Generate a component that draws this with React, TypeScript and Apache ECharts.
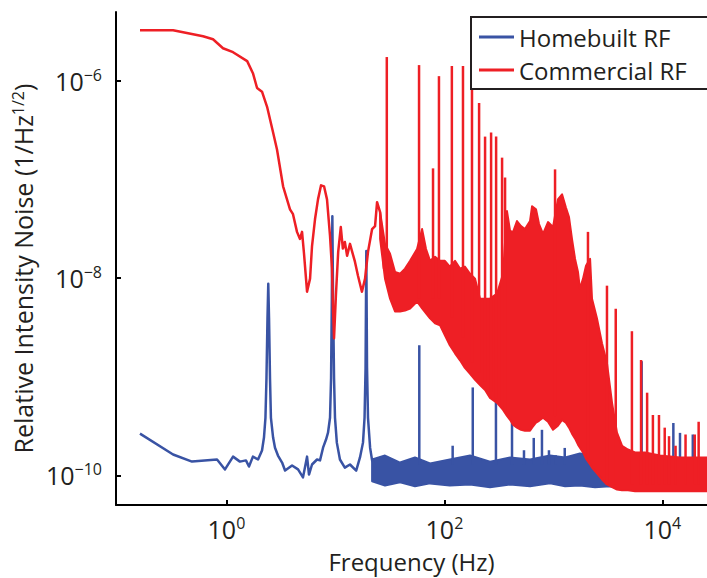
import React, { useEffect, useRef } from "react";
import * as echarts from "echarts";

// ---------- data ----------
// Homebuilt RF: low-frequency trace (Hz, 1/sqrt(Hz))
const blueFreq = [0.161, 0.324, 0.483, 0.82, 0.97, 1.15, 1.33, 1.51, 1.61, 1.75, 1.95, 2.12, 2.21, 2.28, 2.33, 2.38, 2.42, 2.46, 2.51, 2.56, 2.68, 2.79, 2.97, 3.24, 3.45, 4.0, 4.54, 5.04, 5.49, 5.72, 6.1, 6.78, 7.22, 7.7, 8.2, 8.55, 8.92, 9.12, 9.27, 9.37, 9.51, 9.71, 9.91, 10.3, 11.0, 12.2, 13.6, 15.5, 16.8, 17.9, 18.5, 18.9, 19.2, 19.5, 19.9, 20.8, 21.7, 23.6];
const blueVal = [2.65e-10, 1.63e-10, 1.38e-10, 1.45e-10, 1.15e-10, 1.55e-10, 1.38e-10, 1.42e-10, 1.23e-10, 1.55e-10, 1.45e-10, 1.79e-10, 2.42e-10, 3.84e-10, 9.7e-10, 3.91e-9, 8.8e-9, 3.91e-9, 9.7e-10, 3.84e-10, 2.42e-10, 1.91e-10, 1.59e-10, 1.35e-10, 1.12e-10, 1.26e-10, 1.15e-10, 9.55e-11, 1.55e-10, 1.02e-10, 1.29e-10, 1.45e-10, 1.42e-10, 1.91e-10, 2.31e-10, 2.71e-10, 3.84e-10, 9.7e-10, 6.2e-9, 4.26e-8, 6.2e-9, 9.7e-10, 3.84e-10, 2.15e-10, 1.45e-10, 1.2e-10, 1.29e-10, 1.12e-10, 1.52e-10, 2.15e-10, 3.84e-10, 1.23e-9, 1.89e-8, 1.23e-9, 3.84e-10, 1.91e-10, 1.42e-10, 1.2e-10];
// Homebuilt RF: dense noise floor envelope
const blueBandFreq = [21.7, 28.5, 39.2, 53.7, 73.8, 112, 172, 262, 400, 610, 931, 1280, 1750, 2410, 3300, 5040, 7690, 11700, 17900, 25600];
const blueBandHi = [1.45e-10, 1.59e-10, 1.35e-10, 1.52e-10, 1.32e-10, 1.45e-10, 1.59e-10, 1.38e-10, 1.52e-10, 1.45e-10, 1.59e-10, 1.52e-10, 1.67e-10, 1.59e-10, 1.45e-10, 1.32e-10, 1.42e-10, 1.35e-10, 1.45e-10, 1.38e-10];
const blueBandLo = [8.7e-11, 7.9e-11, 8.5e-11, 7.75e-11, 8.3e-11, 7.9e-11, 8.1e-11, 7.6e-11, 8.1e-11, 7.75e-11, 8.3e-11, 7.75e-11, 7.9e-11, 7.6e-11, 7.75e-11, 7.4e-11, 7.6e-11, 7.2e-11, 7.6e-11, 7.4e-11];
// Homebuilt RF: line harmonics
const blueSpikeFreq = [58.8, 119, 182, 297, 417, 537, 660, 785, 910, 1050, 1270, 6450, 12600, 14500, 19000];
const blueSpikePeak = [2.09e-9, 2.0e-10, 7.8e-10, 6.2e-10, 4.9e-10, 1.8e-10, 2.4e-10, 2.9e-10, 1.8e-10, 1.6e-10, 1.9e-10, 1.44e-9, 3.4e-10, 2.7e-10, 2.6e-10];
const blueSpikeBase = [1.3e-10, 1.3e-10, 1.3e-10, 1.3e-10, 1.3e-10, 1.3e-10, 1.3e-10, 1.3e-10, 1.3e-10, 1.3e-10, 1.3e-10, 1.3e-10, 1.3e-10, 1.3e-10, 1.3e-10];

// Commercial RF: low-frequency trace
const redFreq = [0.161, 0.324, 0.61, 0.753, 0.93, 1.15, 1.55, 1.75, 1.91, 2.12, 2.36, 2.68, 2.91, 3.31, 3.83, 4.08, 4.44, 4.73, 4.94, 5.15, 5.49, 5.85, 6.1, 6.5, 6.92, 7.38, 7.86, 8.37, 8.92, 9.3, 9.5, 9.71, 10.1, 10.6, 11.2, 11.7, 12.2, 12.8, 13.6, 15.1, 16.1, 17.5, 18.7, 19.9, 21.7, 23.1, 24.1, 25.7, 26.8, 27.9];
const redVal = [3.27e-6, 3.27e-6, 2.84e-6, 2.65e-6, 2.15e-6, 1.96e-6, 1.59e-6, 1.2e-6, 8.5e-7, 7.8e-7, 5.47e-7, 3.0e-7, 2.02e-7, 8.55e-8, 5.0e-8, 4.46e-8, 2.95e-8, 2.5e-8, 2.95e-8, 1.77e-8, 7.3e-9, 9.9e-9, 2.12e-8, 3.98e-8, 6.3e-8, 8.75e-8, 8.55e-8, 6.3e-8, 2.68e-8, 1.25e-8, 4.93e-9, 2.46e-9, 6.67e-9, 1.85e-8, 3.3e-8, 2.0e-8, 2.33e-8, 1.69e-8, 2.23e-8, 1.47e-8, 1.06e-8, 7.3e-9, 9.9e-9, 1.85e-8, 3.15e-8, 3.38e-8, 5.9e-8, 4.68e-8, 2.5e-8, 1.25e-8];
// Commercial RF: dense noise envelope
const redBandFreq = [25.7, 28.5, 31.7, 35.2, 39.2, 43.5, 48.4, 56.1, 62.4, 67.8, 73.8, 82, 91.2, 101, 112, 125, 139, 154, 172, 191, 212, 236, 262, 304, 345, 375, 400, 426, 463, 504, 548, 610, 637, 692, 738, 803, 892, 991, 1100, 1200, 1300, 1390, 1480, 1580, 1680, 1750, 1870, 1990, 2170, 2260, 2510, 2790, 3100, 3450, 3830, 4260, 4830, 5610, 6920, 9510, 14500, 25600];
const redBandHi = [4.68e-8, 2.23e-8, 1.77e-8, 1.16e-8, 1.11e-8, 1.25e-8, 1.5e-8, 1.98e-8, 3.15e-8, 1.98e-8, 1.5e-8, 1.65e-8, 1.5e-8, 1.5e-8, 1.31e-8, 1.5e-8, 1.25e-8, 1.31e-8, 1.11e-8, 9.9e-9, 6.2e-9, 6.2e-9, 6.2e-9, 6.98e-9, 1.11e-8, 4.79e-8, 3.01e-8, 2.94e-8, 3.8e-8, 3.38e-8, 3.15e-8, 3.8e-8, 5.37e-8, 5.0e-8, 3.54e-8, 2.81e-8, 3.71e-8, 3.3e-8, 6.3e-8, 7.1e-8, 5.25e-8, 4.17e-8, 2.5e-8, 1.57e-8, 1.16e-8, 7.8e-9, 9.9e-9, 1.34e-8, 1.57e-8, 6.2e-9, 3.91e-9, 2.19e-9, 1.38e-9, 5.44e-10, 2.71e-10, 2.0e-10, 1.83e-10, 1.71e-10, 1.71e-10, 1.59e-10, 1.52e-10, 1.52e-10];
const redBandLo = [2.5e-8, 9.9e-9, 6.2e-9, 4.6e-9, 4.6e-9, 4.71e-9, 4.93e-9, 5.8e-9, 4.93e-9, 4.39e-9, 3.91e-9, 3.48e-9, 3.32e-9, 2.64e-9, 2.09e-9, 1.73e-9, 1.47e-9, 1.23e-9, 1.07e-9, 9.3e-10, 8.26e-10, 7.35e-10, 6.1e-10, 5.44e-10, 4.62e-10, 4.02e-10, 3.66e-10, 3.27e-10, 3.05e-10, 2.9e-10, 2.84e-10, 2.84e-10, 3.05e-10, 3.42e-10, 3.58e-10, 3.84e-10, 3.5e-10, 2.9e-10, 3.19e-10, 3.66e-10, 3.42e-10, 3.05e-10, 2.65e-10, 2.36e-10, 2.05e-10, 1.91e-10, 1.71e-10, 1.48e-10, 1.29e-10, 1.2e-10, 1.05e-10, 9.1e-11, 8.1e-11, 7.6e-11, 7.2e-11, 7.05e-11, 7.05e-11, 6.9e-11, 6.9e-11, 6.9e-11, 6.9e-11, 6.9e-11];
// Commercial RF: line harmonics
const redSpikeFreq = [29.6, 58.5, 78.6, 89.1, 117, 148, 179, 208, 236, 268, 298, 338, 360, 1035, 2075, 3100, 3730, 5250, 6370, 7240, 8180, 9300, 10500, 11500, 13200, 16300, 19800, 21500];
const redSpikePeak = [1.75e-6, 1.45e-6, 1.3e-7, 1.12e-6, 1.42e-6, 1.42e-6, 1.6e-6, 6.0e-7, 2.73e-7, 3.0e-7, 2.73e-7, 1.67e-7, 1.05e-7, 1.27e-7, 2.95e-8, 8.4e-9, 4.9e-9, 2.9e-9, 1.48e-9, 6.9e-10, 4.1e-10, 4.1e-10, 3.05e-10, 2.5e-10, 2.0e-10, 2.6e-10, 2.6e-10, 3.5e-10];
const redSpikeBase = [9.9e-9, 6.2e-9, 6.2e-9, 6.2e-9, 4.0e-9, 2.5e-9, 1.4e-9, 1.1e-9, 9.0e-10, 7.0e-10, 6.0e-10, 5.0e-10, 4.5e-10, 4.0e-10, 1.5e-10, 8e-11, 8e-11, 8e-11, 8e-11, 8e-11, 8e-11, 8e-11, 8e-11, 8e-11, 8e-11, 8e-11, 8e-11, 8e-11];

const xTickValues = [1, 100, 10000];
const yTickValues = [1e-10, 1e-8, 1e-6];
const X_MIN = 0.097;
const X_MAX = 25650;
const Y_MIN = 5.01e-11;
const Y_MAX = 5.01e-6;

const BLUE = "#3953a4";
const RED = "#ee1f25";
const INK = "#231f20";
const FONT = "'Open Sans', 'Noto Sans', sans-serif";

const NAME_BLUE = "Homebuilt RF";
const NAME_RED = "Commercial RF";

function lineSeries(name: string, color: string, f: number[], v: number[], z: number) {
  return {
    type: "line",
    name,
    z,
    data: f.map((x, i) => [x, v[i]]),
    showSymbol: false,
    symbol: "none",
    lineStyle: { color, width: 2.5, join: "round" },
    itemStyle: { color },
    silent: true,
  };
}

function bandSeries(name: string, color: string, f: number[], hi: number[], lo: number[], z: number) {
  return {
    type: "custom",
    name,
    z,
    silent: true,
    clip: true,
    data: [[f[0], hi[0]]],
    encode: { x: 0, y: 1 },
    renderItem: (_params: any, api: any) => {
      const top = f.map((x, i) => api.coord([x, hi[i]]));
      const bottom = f.map((x, i) => api.coord([x, lo[i]])).reverse();
      return {
        type: "polygon",
        shape: { points: top.concat(bottom) },
        style: { fill: color, stroke: color, lineWidth: 2, lineJoin: "round" },
      };
    },
  };
}

function spikeSeries(name: string, color: string, f: number[], base: number[], peak: number[], z: number) {
  return {
    type: "custom",
    name,
    z,
    silent: true,
    clip: true,
    data: f.map((x, i) => [x, base[i], peak[i]]),
    encode: { x: 0, y: [1, 2] },
    renderItem: (_params: any, api: any) => {
      const a = api.coord([api.value(0), api.value(1)]);
      const b = api.coord([api.value(0), api.value(2)]);
      return {
        type: "line",
        shape: { x1: a[0], y1: a[1], x2: b[0], y2: b[1] },
        style: { stroke: color, lineWidth: 2.5 },
      };
    },
  };
}

const powLabel = (v: number) => {
  const e = Math.round(Math.log10(v));
  const s = e < 0 ? "\u2212" + String(-e) : String(e);
  return `{b|10}{e|${s}}`;
};

const labelRich = {
  b: { fontSize: 25, lineHeight: 28, fontFamily: FONT, color: INK },
  e: { fontSize: 16, lineHeight: 16, fontFamily: FONT, color: INK, verticalAlign: "top" },
};

export default function App() {
  const ref = useRef<HTMLDivElement>(null);

  useEffect(() => {
    if (!ref.current) return;
    const chart = echarts.init(ref.current, null, { renderer: "svg" });
    chart.setOption({
      animation: false,
      backgroundColor: "#ffffff",
      grid: { left: 116, right: 0, top: 12, bottom: 70 },
      legend: {
        left: 471,
        top: 17,
        orient: "vertical",
        padding: [8, 60, 7, 8],
        itemGap: 9,
        itemWidth: 35,
        itemHeight: 3,
        borderColor: INK,
        borderWidth: 2,
        borderRadius: 0,
        backgroundColor: "#ffffff",
        selectedMode: false,
        textStyle: { fontSize: 24, lineHeight: 22, fontFamily: FONT, color: INK },
        data: [
          { name: NAME_BLUE, icon: "rect", itemStyle: { color: BLUE } },
          { name: NAME_RED, icon: "rect", itemStyle: { color: RED } },
        ],
      },
      xAxis: {
        type: "log",
        logBase: 10,
        min: X_MIN,
        max: X_MAX,
        name: "Frequency (Hz)",
        nameLocation: "middle",
        nameGap: 44,
        nameTextStyle: { fontSize: 24, fontFamily: FONT, color: INK },
        axisLine: { show: true, onZero: false, lineStyle: { color: "#000", width: 2 } },
        axisTick: { show: true, inside: true, length: 5, customValues: xTickValues, lineStyle: { color: "#000", width: 2 } },
        axisLabel: { customValues: xTickValues, margin: 10, formatter: powLabel, rich: labelRich },
        splitLine: { show: false },
        minorTick: { show: false },
      },
      yAxis: {
        type: "log",
        logBase: 10,
        min: Y_MIN,
        max: Y_MAX,
        name: "Relative Intensity Noise (1/Hz{s|1/2})",
        nameLocation: "middle",
        nameGap: 74,
        nameTextStyle: {
          fontSize: 25,
          fontFamily: FONT,
          color: INK,
          padding: [0, 20, 0, 0],
          rich: { s: { fontSize: 16, fontFamily: FONT, color: INK, verticalAlign: "top" } },
        },
        axisLine: { show: true, onZero: false, lineStyle: { color: "#000", width: 2 } },
        axisTick: { show: true, inside: true, length: 5, customValues: yTickValues, lineStyle: { color: "#000", width: 2 } },
        axisLabel: { customValues: yTickValues, margin: 14, formatter: powLabel, rich: labelRich },
        splitLine: { show: false },
        minorTick: { show: false },
      },
      series: [
        bandSeries(NAME_BLUE, BLUE, blueBandFreq, blueBandHi, blueBandLo, 2),
        spikeSeries(NAME_BLUE, BLUE, blueSpikeFreq, blueSpikeBase, blueSpikePeak, 2),
        lineSeries(NAME_BLUE, BLUE, blueFreq, blueVal, 2),
        bandSeries(NAME_RED, RED, redBandFreq, redBandHi, redBandLo, 3),
        spikeSeries(NAME_RED, RED, redSpikeFreq, redSpikeBase, redSpikePeak, 3),
        lineSeries(NAME_RED, RED, redFreq, redVal, 3),
      ],
    });
    return () => chart.dispose();
  }, []);

  return (
    <div
      ref={ref}
      style={{ position: "fixed", left: 0, top: 0, width: 707, height: 578, background: "#fff" }}
    />
  );
}
